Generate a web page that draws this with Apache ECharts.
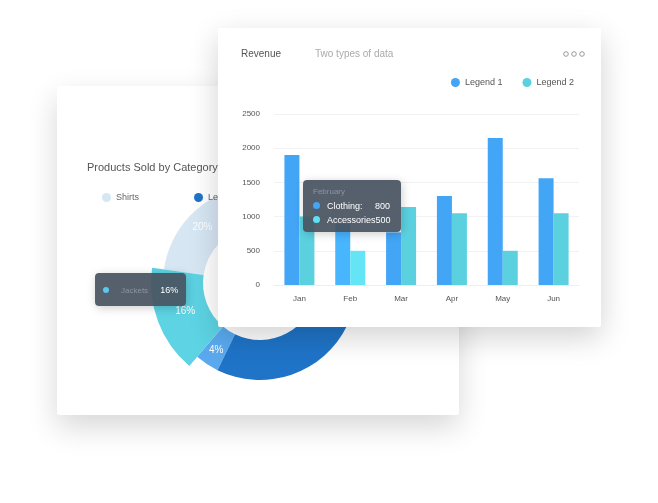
<!DOCTYPE html>
<html><head><meta charset="utf-8">
<script src="https://cdn.jsdelivr.net/npm/echarts@6/dist/echarts.min.js"></script>
<style>
html,body{margin:0;padding:0;background:#fff;width:658px;height:503px;overflow:hidden;font-family:Roboto,"Noto Sans",sans-serif}
#backCard{position:absolute;left:57px;top:86px;width:402px;height:329px;background:#fff;box-shadow:0 12px 30px rgba(0,0,0,0.16);border-radius:2px}
#pie{position:absolute;left:0;top:0;width:658px;height:503px}
#front{position:absolute;left:218px;top:28px;width:383px;height:299px;background:#fff;box-shadow:0 10px 30px rgba(0,0,0,0.18);border-radius:2px}
</style></head><body>
<div id="backCard"></div>
<div id="pie"></div>
<div id="front"></div>
<script>
const pieNames = ['Jackets','Hats','Legend','Other','Shirts'];
const pieValues = [16,4,40,20,20];
const pieColors = ['#5dd3e3','#5aa9ee','#1f74c8','#2f8ee0','#d6e6f3'];
const legendNames = ['Shirts','Legend'];

const months = ['Jan','Feb','Mar','Apr','May','Jun'];
const legend1 = [1900,900,770,1300,2150,1560];
const legend2 = [1000,500,1140,1050,500,1050];
const yTicks = [0,500,1000,1500,2000,2500];

const pie = echarts.init(document.getElementById('pie'));
pie.setOption({
  animation:false,
  title:{text:'Products Sold by Category',left:82,top:157,textStyle:{fontSize:11,fontWeight:'normal',color:'#555'}},
  legend:{data:legendNames,left:97,top:188,itemGap:55,icon:'circle',itemWidth:9,itemHeight:9,textStyle:{fontSize:9,color:'#666'}},
  tooltip:{trigger:'item',alwaysShowContent:true,showDelay:0,transitionDuration:0,
    backgroundColor:'rgba(72,82,96,0.92)',borderWidth:0,padding:[5,8],
    position:[95,273],
    formatter:p=>'<span style="display:inline-block;width:6px;height:6px;border-radius:3px;background:#5ac8f0;margin-right:12px"></span><span style="color:#8a94a1;font-size:8px;margin-right:12px">'+p.name+'</span><span style="color:#fff;font-size:9px">'+p.value+'%</span>'},
  series:[{type:'pie',center:[260,283],radius:[57,97],clockwise:false,startAngle:172,
    emphasis:{scale:true,scaleSize:12,focus:'none',itemStyle:{color:pieColors[0]}},
    label:{show:true,position:'inside',formatter:'{d}%',color:'#fff',fontSize:10},
    labelLine:{show:false},
    data:pieNames.map((n,i)=>({name:n,value:pieValues[i],itemStyle:{color:pieColors[i]},label:{show:i!==2&&i!==3}}))}]
});
pie.dispatchAction({type:'highlight',seriesIndex:0,dataIndex:0});
pie.dispatchAction({type:'showTip',seriesIndex:0,dataIndex:0});

const bar = echarts.init(document.getElementById('front'));
bar.setOption({
  animation:false,
  title:[{text:'Revenue',left:18,top:16,textStyle:{fontSize:10,fontWeight:'normal',color:'#555'}},
         {text:'Two types of data',left:92,top:16,textStyle:{fontSize:10,fontWeight:'normal',color:'#aaa'}}],
  legend:{data:['Legend 1','Legend 2'],right:22,top:45,icon:'circle',itemWidth:9,itemHeight:9,itemGap:20,textStyle:{fontSize:9,color:'#555'}},
  graphic:[0,1,2].map(i=>({type:'circle',shape:{cx:348+i*8,cy:26,r:2.3},style:{fill:'#fff',stroke:'#999',lineWidth:1}})),
  grid:{left:56,right:22,top:86,bottom:42},
  tooltip:{trigger:'axis',alwaysShowContent:true,transitionDuration:0,axisPointer:{type:'none'},
    backgroundColor:'rgba(72,82,96,0.92)',borderWidth:0,padding:[5,10],
    position:[85,152],
    formatter:()=>'<div style="color:#8c96a3;font-size:8px;line-height:14px">February</div>'+
      '<div style="color:#fff;font-size:9px;line-height:14px"><span style="display:inline-block;width:7px;height:7px;border-radius:4px;background:#42a5f5;margin-right:7px"></span>Clothing:&nbsp;&nbsp;&nbsp;&nbsp;&nbsp;800</div>'+
      '<div style="color:#fff;font-size:9px;line-height:14px"><span style="display:inline-block;width:7px;height:7px;border-radius:4px;background:#5ee0f5;margin-right:7px"></span>Accessories500</div>'},
  xAxis:{type:'category',data:months,axisLine:{lineStyle:{color:'#eee'}},axisTick:{show:false},axisLabel:{fontSize:8,color:'#555',margin:10}},
  yAxis:{type:'value',min:yTicks[0],max:yTicks[yTicks.length-1],interval:500,axisLine:{show:false},axisTick:{show:false},
    axisLabel:{fontSize:8,color:'#555',margin:14,formatter:v=>String(v)},splitLine:{lineStyle:{color:'#f2f2f2'}}},
  series:[{name:'Legend 1',type:'bar',data:legend1,barWidth:15,barGap:'0%',itemStyle:{color:'#42a5f5'}},
          {name:'Legend 2',type:'bar',data:legend2,barWidth:15,itemStyle:{color:'#5bd1e0'}}]
});
bar.dispatchAction({type:'showTip',seriesIndex:0,dataIndex:1});
</script>
</body></html>
